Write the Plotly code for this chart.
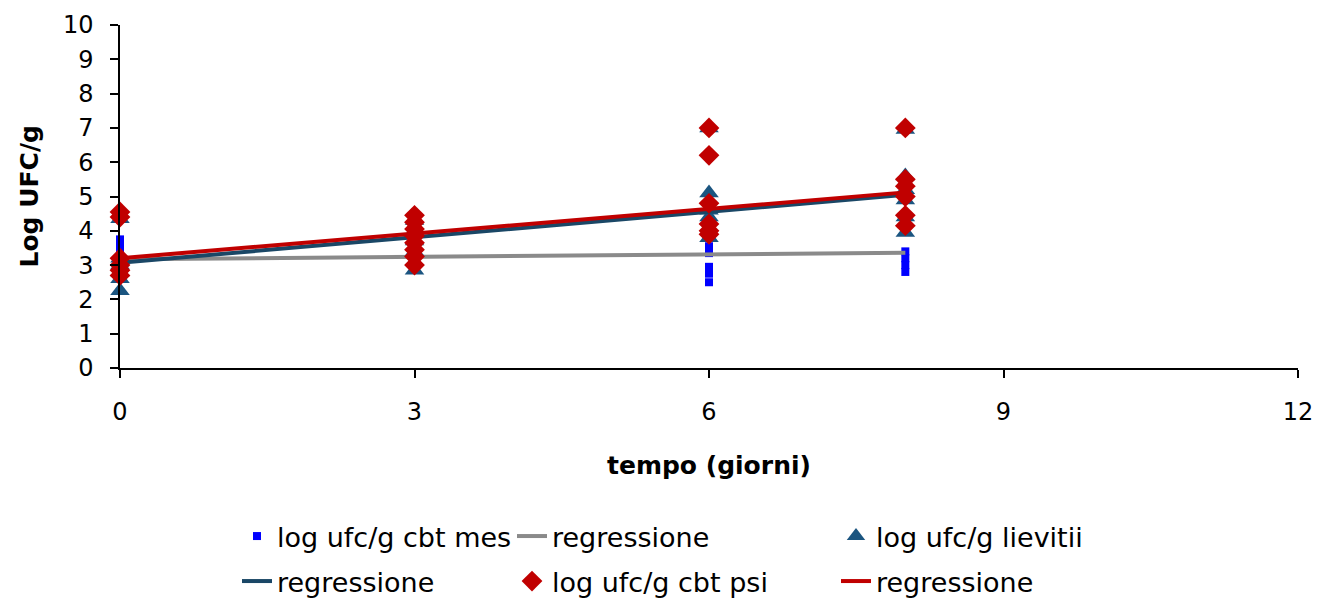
import plotly.graph_objects as go

# ---- data ----
mes_x = [0, 0, 0, 0, 0, 3, 3, 3, 6, 6, 6, 6, 6, 8, 8, 8, 8]
mes_y = [3.75, 3.55, 3.35, 3.15, 2.95, 3.5, 3.3, 3.1, 3.55, 3.35, 2.95, 2.75, 2.5, 3.4, 3.2, 3.0, 2.8]

liev_x = [0, 0, 0, 0, 0, 0, 3, 3, 3, 3, 3, 3, 6, 6, 6, 6, 6, 8, 8, 8, 8, 8, 8]
liev_y = [4.35, 3.2, 3.0, 2.8, 2.6, 2.25, 4.3, 4.0, 3.7, 3.4, 3.1, 2.85,
          7.0, 5.1, 4.6, 4.4, 3.8, 6.95, 5.6, 5.2, 4.9, 4.4, 3.95]

psi_x = [0, 0, 0, 0, 0, 0, 3, 3, 3, 3, 3, 3, 3, 3, 6, 6, 6, 6, 6, 6, 8, 8, 8, 8, 8, 8]
psi_y = [4.55, 4.4, 3.2, 3.0, 2.85, 2.7, 4.45, 4.25, 4.05, 3.85, 3.65, 3.45, 3.25, 3.0,
         7.0, 6.2, 4.8, 4.2, 4.0, 3.9, 7.0, 5.5, 5.3, 5.0, 4.45, 4.15]

reg_x = [0, 8]
reg_mes_y = [3.17, 3.36]
reg_liev_y = [3.07, 5.05]
reg_psi_y = [3.2, 5.12]

x_ticks = [0, 3, 6, 9, 12]
y_ticks = list(range(0, 11))

BLUE = "#0000FF"
GRAY = "#8A8A8A"
TEAL = "#1B5580"
TEAL_LINE = "#1A4766"
RED = "#C00000"
FONT = "DejaVu Sans"

W, H = 1312, 592
PL, PR, PT, PB = 112, 22, 17, 232
plot_w = W - PL - PR
plot_h = H - PT - PB

fig = go.Figure()
fig.add_trace(go.Scatter(x=mes_x, y=mes_y, mode="markers", name="log ufc/g cbt mes",
                         marker=dict(symbol="square", size=8, color=BLUE),
                         legend="legend", cliponaxis=False))
fig.add_trace(go.Scatter(x=reg_x, y=reg_mes_y, mode="lines", name="regressione",
                         line=dict(color=GRAY, width=4),
                         legend="legend2", cliponaxis=False))
fig.add_trace(go.Scatter(x=liev_x, y=liev_y, mode="markers", name="log ufc/g lievitii",
                         marker=dict(symbol="triangle-up", size=17, color=TEAL),
                         legend="legend3", cliponaxis=False))
fig.add_trace(go.Scatter(x=reg_x, y=reg_liev_y, mode="lines", name="regressione",
                         line=dict(color=TEAL_LINE, width=4),
                         legend="legend4", cliponaxis=False))
fig.add_trace(go.Scatter(x=psi_x, y=psi_y, mode="markers", name="log ufc/g cbt psi",
                         marker=dict(symbol="diamond", size=16, color=RED),
                         legend="legend5", cliponaxis=False))
fig.add_trace(go.Scatter(x=reg_x, y=reg_psi_y, mode="lines", name="regressione",
                         line=dict(color=RED, width=4),
                         legend="legend6", cliponaxis=False))

leg_common = dict(orientation="v", yref="container", xref="container",
                  yanchor="top", xanchor="left", bgcolor="rgba(0,0,0,0)",
                  font=dict(family=FONT, size=27, color="#000"))
row1_y = 1 - 504 / H
row2_y = 1 - 549 / H
col_x = [229 / W, 504 / W, 828 / W]

fig.update_layout(
    width=W, height=H,
    paper_bgcolor="white", plot_bgcolor="white",
    margin=dict(l=PL, r=PR, t=PT, b=PB, autoexpand=False),
    font=dict(family=FONT, color="#000"),
    showlegend=True,
    legend=dict(x=col_x[0], y=row1_y, **leg_common),
    legend2=dict(x=col_x[1], y=row1_y, **leg_common),
    legend3=dict(x=col_x[2], y=row1_y, **leg_common),
    legend4=dict(x=col_x[0], y=row2_y, **leg_common),
    legend5=dict(x=col_x[1], y=row2_y, **leg_common),
    legend6=dict(x=col_x[2], y=row2_y, **leg_common),
    xaxis=dict(range=[0, 12], tickvals=x_ticks, ticktext=[str(v) for v in x_ticks],
               showgrid=False, zeroline=False, showline=True, linecolor="#000", linewidth=1.5,
               ticks="outside", ticklen=8, tickwidth=1.5, tickcolor="#000",
               ticklabelstandoff=13, automargin=False,
               tickfont=dict(family=FONT, size=24, color="#000")),
    yaxis=dict(range=[0, 10], tickvals=y_ticks, ticktext=[str(v) for v in y_ticks],
               showgrid=False, zeroline=False, showline=True, linecolor="#000", linewidth=1.5,
               ticks="outside", ticklen=8, tickwidth=1.5, tickcolor="#000",
               ticklabelstandoff=12, automargin=False,
               tickfont=dict(family=FONT, size=24, color="#000")),
    annotations=[
        dict(text="<b>tempo (giorni)</b>", xref="paper", yref="paper",
             x=0.5, y=-(457 - PT - plot_h) / plot_h, xanchor="center", yanchor="middle",
             showarrow=False, font=dict(family=FONT, size=25, color="#000")),
        dict(text="<b>Log UFC/g</b>", xref="paper", yref="paper",
             x=-(PL - 21) / plot_w, y=0.5, xanchor="center", yanchor="middle",
             textangle=-90, showarrow=False, font=dict(family=FONT, size=25, color="#000")),
    ],
)

fig.write_html("out.html")
